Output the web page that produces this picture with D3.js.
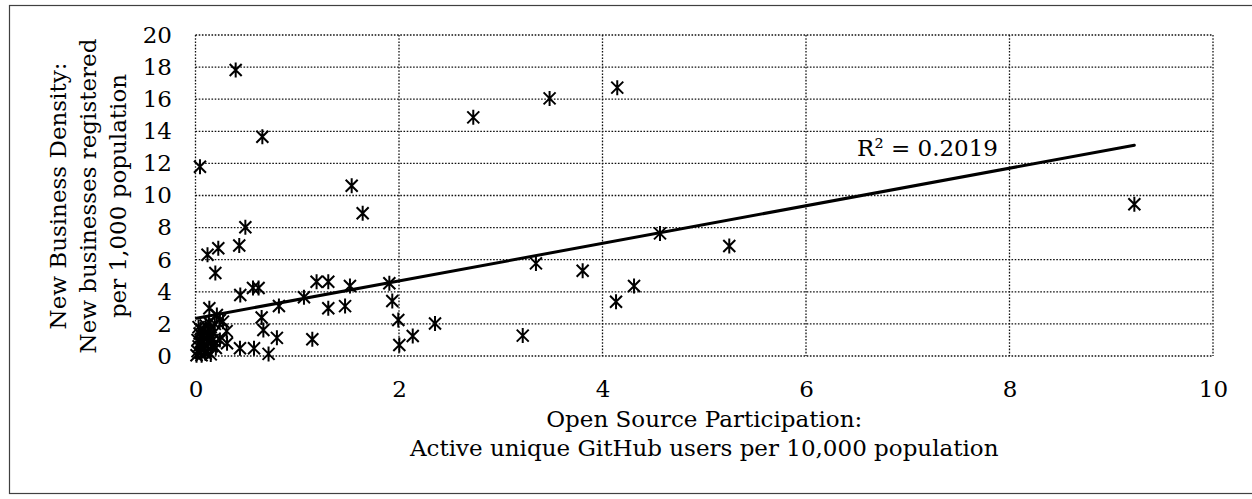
<!DOCTYPE html>
<html><head><meta charset="utf-8">
<script src="https://cdn.jsdelivr.net/npm/d3@7"></script>
<style>
html,body{margin:0;padding:0;background:#fff;}
svg{display:block;}
text{font-family:"DejaVu Serif",Georgia,serif;fill:#000;}
</style>
</head><body>
<svg id="chart" width="1252" height="499"></svg>
<script>
// ---- data ----
const githubUsers = [
  0.044, 0.395, 0.657, 0.49, 0.43, 0.224, 0.118, 0.195, 0.44, 0.565,
  0.62, 0.82, 1.066, 1.19, 1.305, 1.305, 1.47, 1.518, 1.535, 1.643,
  1.905, 1.934, 1.993, 2.003, 2.135, 2.354, 2.73, 3.216, 3.346, 3.48,
  3.805, 4.133, 4.145, 4.31, 4.565, 5.246, 9.227, 0.65, 0.667, 0.8,
  1.148, 0.437, 0.575, 0.718, 0.306, 0.31, 0.27, 0.136, 0.24,
  0.01, 0.02, 0.03, 0.02, 0.04, 0.03, 0.05, 0.06, 0.07, 0.08,
  0.08, 0.09, 0.10, 0.11, 0.12, 0.12, 0.13, 0.14, 0.15, 0.15,
  0.16, 0.17, 0.18, 0.20, 0.05, 0.10, 0.06, 0.13, 0.19, 0.21,
  0.24, 0.17
];
const newBusinessDensity = [
  11.79, 17.82, 13.66, 8.02, 6.88, 6.71, 6.31, 5.17, 3.80, 4.24,
  4.24, 3.12, 3.66, 4.63, 4.63, 2.97, 3.11, 4.36, 10.61, 8.89,
  4.53, 3.43, 2.24, 0.69, 1.25, 2.03, 14.87, 1.27, 5.77, 16.05,
  5.31, 3.38, 16.72, 4.36, 7.64, 6.85, 9.45, 2.40, 1.62, 1.13,
  1.04, 0.48, 0.48, 0.13, 1.55, 0.79, 2.14, 2.97, 2.24,
  0.05, 0.30, 0.60, 1.00, 1.40, 1.80, 0.20, 0.90, 1.20, 0.40,
  1.60, 0.70, 1.90, 1.10, 0.30, 1.50, 0.80, 1.30, 0.10, 1.80,
  0.60, 1.00, 1.45, 0.50, 1.65, 0.15, 0.05, 2.10, 2.00, 2.55,
  1.00, 0.69
];
const xTickValues = [0, 2, 4, 6, 8, 10];
const yTickValues = [0, 2, 4, 6, 8, 10, 12, 14, 16, 18, 20];
const trendSlope = 1.17;
const trendIntercept = 2.34;
const rSquaredLabel = "R\u00B2 = 0.2019";
const xTitleLines = ["Open Source Participation:", "Active unique GitHub users per 10,000 population"];
const yTitleLines = ["New Business Density:", "New businesses registered", "per 1,000 population"];

// ---- layout ----
const svg = d3.select("#chart");
const plot = {left: 195.5, right: 1213, top: 35, bottom: 356};
const fontSize = 23;

svg.append("rect")
  .attr("x", 9.5).attr("y", 5.5).attr("width", 1260).attr("height", 488)
  .attr("fill", "#fff").attr("stroke", "#404040").attr("stroke-width", 1.2);

const x = d3.scaleLinear().domain([0, 10]).range([plot.left, plot.right]);
const y = d3.scaleLinear().domain([0, 20]).range([plot.bottom, plot.top]);

// gridlines (dotted)
const grid = svg.append("g").attr("stroke", "#111").attr("stroke-width", 1.3)
  .attr("stroke-dasharray", "1.6,1.6").attr("fill", "none");
grid.selectAll("line.h").data(yTickValues).join("line").attr("class", "h")
  .attr("x1", plot.left).attr("x2", plot.right)
  .attr("y1", d => y(d)).attr("y2", d => y(d));
grid.selectAll("line.v").data(xTickValues).join("line").attr("class", "v")
  .attr("y1", plot.top).attr("y2", plot.bottom)
  .attr("x1", d => x(d)).attr("x2", d => x(d));

// axes (labels only)
const xAxis = svg.append("g").attr("transform", `translate(0,${plot.bottom})`)
  .call(d3.axisBottom(x).tickValues(xTickValues).tickSize(0).tickPadding(25).tickFormat(d3.format("d")));
const yAxis = svg.append("g").attr("transform", `translate(${plot.left},0)`)
  .call(d3.axisLeft(y).tickValues(yTickValues).tickSize(0).tickPadding(23.5).tickFormat(d3.format("d")));
[xAxis, yAxis].forEach(a => {
  a.select(".domain").remove();
  a.selectAll("text").attr("font-family", "DejaVu Serif, Georgia, serif")
    .attr("font-size", fontSize).attr("fill", "#000");
});

// trendline
const xExt = d3.extent(githubUsers);
svg.append("line")
  .attr("x1", x(xExt[0])).attr("y1", y(trendIntercept + trendSlope * xExt[0]))
  .attr("x2", x(xExt[1])).attr("y2", y(trendIntercept + trendSlope * xExt[1]))
  .attr("stroke", "#000").attr("stroke-width", 3).attr("stroke-linecap", "round");

// star markers
const pts = githubUsers.map((v, i) => ({x: v, y: newBusinessDensity[i]}));
svg.append("g").selectAll("path").data(pts).join("path")
  .attr("transform", d => `translate(${x(d.x)},${y(d.y)})`)
  .attr("d", "M-6,-6L6,6M-6,6L6,-6M0,-7.5L0,7.5")
  .attr("stroke", "#000").attr("stroke-width", 2).attr("fill", "none");

// R² label
svg.append("text").attr("x", 998).attr("y", 156).attr("text-anchor", "end")
  .attr("font-size", fontSize).text(rSquaredLabel);

// x axis title
const xt = svg.append("text").attr("text-anchor", "middle").attr("font-size", fontSize);
xTitleLines.forEach((t, i) => xt.append("tspan").attr("x", (plot.left + plot.right) / 2).attr("y", 427 + i * 29).text(t));

// y axis title
const yt = svg.append("text").attr("text-anchor", "middle").attr("font-size", fontSize)
  .attr("transform", "translate(0,196) rotate(-90)");
yTitleLines.forEach((t, i) => yt.append("tspan").attr("x", 0).attr("y", 66 + i * 30).text(t));
</script>
</body></html>
